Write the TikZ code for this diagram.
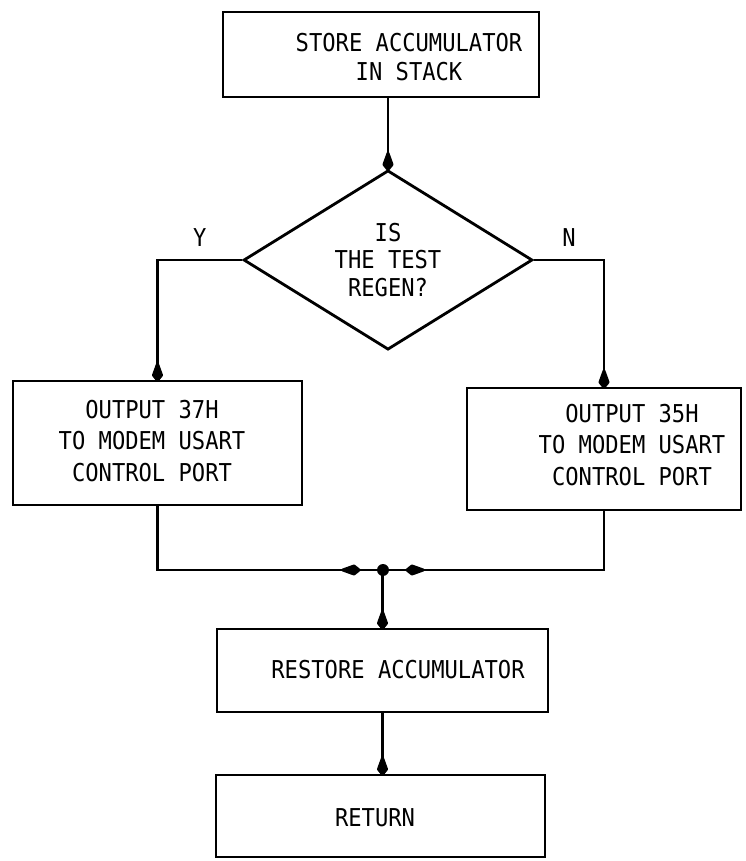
\documentclass[tikz,border=0pt]{standalone}
\usepackage{fontspec}
\setmainfont{DejaVu Sans Mono}[FakeStretch=0.9]
\usetikzlibrary{arrows.meta,shapes.geometric,decorations.markings}

\begin{document}
\begin{tikzpicture}[x=0.02cm,y=-0.02cm,line width=1.6pt,>={Kite[length=13pt,width=6.5pt,inset=9pt,round]},
  box/.style={draw,rectangle,inner sep=0pt},
  txt/.style={align=center,inner sep=0pt,font=\fontsize{14}{18}\selectfont},
  lab/.style={inner sep=0pt,font=\fontsize{14}{18}\selectfont},
  flow/.style={->,shorten >=-1.2pt},
  tipat/.style={postaction={decorate},decoration={markings,mark=at position #1 with {\arrow{>}}}}]
\useasboundingbox (0,0) rectangle (746,861);

\node[box,minimum width=6.32cm,minimum height=1.70cm] (store) at (381,54.5) {};
\node[draw,diamond,inner sep=0pt,minimum width=5.78cm,minimum height=3.30cm,
      align=center,font=\fontsize{14}{15.4}\selectfont] (dec) at (388,260) {IS\\THE TEST\\REGEN?};
\node[box,minimum width=5.78cm,minimum height=2.48cm] (out37) at (157.5,443) {};
\node[box,minimum width=5.48cm,minimum height=2.44cm] (out35) at (604,449) {};
\node[box,minimum width=6.62cm,minimum height=1.66cm] (restore) at (382.5,670.5) {};
\node[box,minimum width=6.58cm,minimum height=1.64cm] (ret) at (380.5,816) {};

\node[txt,font=\fontsize{14}{16.5}\selectfont] (store-t) at (409,57) {STORE ACCUMULATOR\\IN STACK};
\node[txt] (out37-t) at (152,441) {OUTPUT 37H\\TO MODEM USART\\CONTROL PORT};
\node[txt] (out35-t) at (632,445) {OUTPUT 35H\\TO MODEM USART\\CONTROL PORT};
\node[txt] (restore-t) at (398,670) {RESTORE ACCUMULATOR};
\node[txt] (ret-t) at (375,818) {RETURN};

\coordinate (join) at (383,570);

\draw[flow] (store.south -| dec.north) -- (dec.north);
\draw[flow] (dec.west) -| node[lab,pos=0.25,above=7pt] (ylab) {Y} (out37.north);
\draw[flow] (dec.east) -| node[lab,pos=0.25,above=7pt] (nlab) {N} (out35.north);
\draw[tipat=-0.45cm] (out37.south) |- (join);
\draw[tipat=-0.45cm] (out35.south) |- (join);
\fill (join) circle (3.4pt);
\draw[flow] (join) -- (join -| restore.north) -- (restore.north);
\draw[flow] (restore.south) -- (restore.south |- ret.north);
\end{tikzpicture}
\end{document}
